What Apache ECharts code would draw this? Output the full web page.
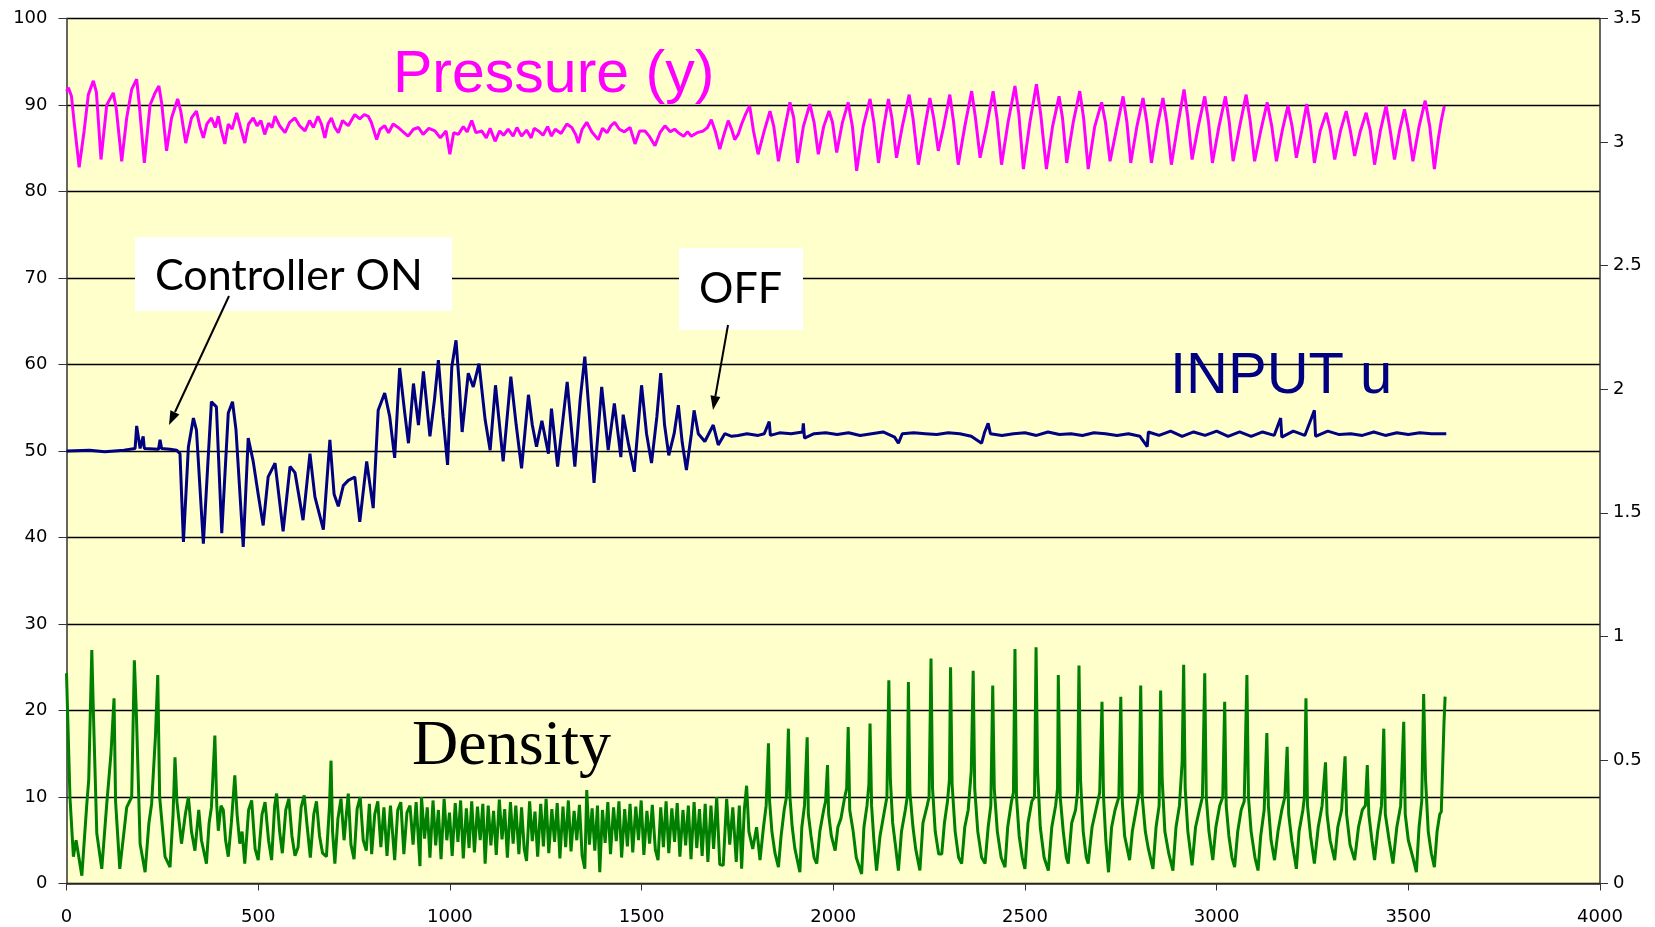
<!DOCTYPE html>
<html><head><meta charset="utf-8">
<script src="https://cdn.jsdelivr.net/npm/echarts@6/dist/echarts.min.js"></script>
<style>html,body{margin:0;padding:0;background:#fff}#c{width:1655px;height:927px}</style>
</head><body><div id="c"></div>
<script>
var xTicks = [0,500,1000,1500,2000,2500,3000,3500,4000];
var leftTicks = [0,10,20,30,40,50,60,70,80,90,100];
var rightTicks = [0,0.5,1,1.5,2,2.5,3,3.5];

var pressurePts = [[0,91.6],[5,92.0],[13,91.0],[20,88],[33,82.8],[46,87.0],[57,91.2],[70,92.8],[78,91.5],[90,83.7],[105,90.0],[122,91.4],[130,89.5],[144,83.5],[157,88.5],[170,91.8],[183,93.0],[190,90],[203,83.3],[218,90.0],[231,91.4],[241,92.2],[248,90.3],[261,84.7],[274,88.5],[290,90.7],[298,89.3],[311,85.6],[326,88.5],[339,89.3],[348,87.5],[357,86.2],[366,87.8],[378,88.5],[388,87.4],[396,88.7],[404,87.0],[413,85.5],[422,87.8],[432,87.2],[444,89.1],[454,87.4],[465,85.6],[475,87.8],[487,88.5],[497,87.6],[507,88.2],[517,86.6],[527,87.9],[536,87.4],[544,88.7],[556,87.6],[570,86.8],[582,88.0],[596,88.5],[608,87.6],[622,87.0],[634,88.2],[644,87.4],[656,88.7],[665,87.8],[674,86.2],[682,87.8],[691,88.5],[700,87.4],[709,86.8],[720,88.2],[735,87.6],[752,88.9],[765,88.4],[777,88.9],[787,88.7],[795,88.0],[809,86.0],[818,87.2],[830,87.6],[840,86.8],[852,87.8],[865,87.4],[878,86.9],[891,86.4],[905,87.2],[918,87.4],[930,86.6],[945,87.3],[961,87.0],[975,86.2],[990,87.0],[1000,84.3],[1010,86.8],[1022,86.6],[1035,87.5],[1045,86.9],[1057,88.2],[1068,86.8],[1083,87.0],[1095,86.2],[1105,87.3],[1118,85.8],[1130,87.0],[1140,86.5],[1152,87.2],[1165,86.4],[1175,87.4],[1187,86.4],[1200,87.1],[1212,86.2],[1220,87.3],[1231,87.0],[1243,86.5],[1255,87.5],[1265,86.4],[1275,87.2],[1290,86.7],[1305,87.8],[1318,87.4],[1328,86.6],[1335,85.6],[1345,87.2],[1357,88.0],[1370,86.9],[1387,86.0],[1398,87.3],[1410,86.8],[1420,87.6],[1430,88.0],[1442,87.2],[1455,86.9],[1470,87.4],[1483,85.5],[1495,87.0],[1509,87.0],[1520,86.4],[1535,85.3],[1548,86.8],[1561,87.6],[1575,86.9],[1586,87.2],[1596,86.8],[1610,86.4],[1620,86.9],[1630,86.4],[1645,86.8],[1661,87.0],[1672,87.4],[1682,88.3],[1692,87.0],[1704,84.9],[1715,86.6],[1726,88.2],[1735,87.2],[1743,86.0],[1752,86.6],[1761,87.8],[1772,89.0],[1782,89.9],[1792,87.0],[1804,84.3],[1820,87.0],[1835,89.3],[1845,87.5],[1857,83.5],[1872,87.0],[1887,90.3],[1897,88.5],[1907,83.3],[1922,87.5],[1939,90.1],[1950,88.0],[1961,84.3],[1975,87.5],[1989,89.3],[1998,88.0],[2009,84.5],[2024,88.0],[2039,90.3],[2050,87.5],[2061,82.4],[2078,87.5],[2096,90.7],[2106,88.0],[2118,83.3],[2130,87.0],[2144,90.7],[2153,88.5],[2165,83.9],[2180,87.5],[2198,91.2],[2208,88.5],[2222,83.1],[2237,87.0],[2252,90.8],[2262,88.5],[2274,84.7],[2288,87.5],[2304,91.2],[2314,88.0],[2326,83.1],[2343,87.5],[2361,91.6],[2371,88.5],[2383,83.9],[2400,87.5],[2417,91.6],[2427,88.5],[2439,83.1],[2456,88.0],[2474,92.2],[2484,89.0],[2496,82.6],[2513,88.0],[2530,92.4],[2541,89.0],[2556,82.6],[2572,87.5],[2589,91.0],[2598,88.5],[2609,83.3],[2626,88.0],[2643,91.6],[2653,88.5],[2665,82.6],[2682,87.5],[2700,90.3],[2710,88.0],[2722,83.5],[2740,87.5],[2756,91.0],[2766,88.0],[2776,83.3],[2792,87.5],[2808,90.8],[2818,88.0],[2830,83.3],[2845,87.5],[2860,90.8],[2870,88.0],[2882,83.1],[2898,87.5],[2915,91.8],[2925,88.5],[2936,83.7],[2952,87.5],[2969,91.0],[2979,88.0],[2989,83.3],[3006,87.5],[3023,91.0],[3033,88.0],[3043,83.5],[3060,87.5],[3077,91.2],[3088,88.0],[3099,83.5],[3115,87.0],[3132,90.3],[3144,87.5],[3156,83.5],[3171,87.0],[3186,89.9],[3197,87.5],[3208,83.9],[3222,87.0],[3235,90.1],[3245,87.5],[3255,83.3],[3270,87.0],[3286,89.1],[3297,87.0],[3308,83.7],[3323,87.0],[3338,89.3],[3349,87.0],[3360,84.1],[3375,87.0],[3390,89.1],[3401,87.0],[3412,83.1],[3427,87.0],[3442,89.9],[3453,87.0],[3464,83.7],[3477,87.0],[3490,89.5],[3501,87.0],[3512,83.5],[3528,87.5],[3544,90.5],[3556,87.5],[3568,82.6],[3578,86.0],[3586,88.2],[3594,89.9]];

var inputPts = [[0,50.0],[60,50.1],[100,49.9],[150,50.1],[179,50.3],[183,52.9],[186,52.9],[192,50.3],[200,51.7],[203,50.3],[240,50.2],[244,51.3],[248,50.3],[270,50.2],[287,50.1],[296,49.7],[305,39.5],[318,50.5],[331,53.8],[339,52.4],[357,39.3],[368,48],[378,55.7],[391,55.1],[405,40.5],[422,54.4],[433,55.7],[442,52.5],[461,38.9],[474,51.5],[487,48.8],[500,45],[513,41.4],[526,47.0],[544,48.6],[565,40.7],[583,48.2],[596,47.5],[617,42.0],[635,49.7],[648,44.7],[670,40.9],[687,51.3],[698,45],[709,43.6],[722,46],[735,46.6],[752,47.0],[765,41.8],[783,48.8],[800,43.4],[813,54.7],[830,56.7],[843,54],[856,49.2],[869,59.6],[882,54.5],[892,50.9],[905,57.8],[918,53.0],[931,59.2],[948,51.7],[960,56],[970,60.5],[982,54],[994,48.4],[1005,59.7],[1016,62.8],[1024,58],[1032,52.2],[1048,59.0],[1061,57.4],[1076,60.1],[1092,53.6],[1105,50.1],[1119,57.6],[1139,48.8],[1159,58.6],[1173,53],[1187,48.0],[1205,56.5],[1215,53],[1226,50.5],[1240,53.5],[1257,49.7],[1265,54.9],[1281,48.2],[1306,58.0],[1326,48.2],[1340,56],[1352,60.9],[1364,54],[1376,46.3],[1396,57.4],[1413,50.1],[1429,55.5],[1446,49.3],[1452,54.2],[1465,51],[1481,47.6],[1500,57.6],[1513,52],[1526,48.6],[1540,54],[1550,59.0],[1560,53],[1571,49.5],[1585,52],[1596,55.3],[1606,51],[1617,47.8],[1630,52],[1637,54.7],[1648,52.0],[1665,51.1],[1687,53.0],[1700,50.7],[1717,52.0],[1735,51.7],[1752,51.8],[1775,52.0],[1804,51.8],[1820,52.0],[1833,53.4],[1836,51.8],[1860,52.1],[1890,52.0],[1920,52.2],[1922,53.2],[1925,51.5],[1950,52.0],[1980,52.1],[2010,51.9],[2040,52.1],[2070,51.8],[2100,52.0],[2130,52.2],[2160,51.6],[2170,50.9],[2180,52.0],[2210,52.1],[2240,52.0],[2270,51.9],[2300,52.1],[2330,52.0],[2360,51.7],[2387,50.9],[2395,52.2],[2404,53.2],[2410,52.0],[2440,51.8],[2470,52.0],[2500,52.1],[2530,51.8],[2560,52.2],[2590,51.9],[2620,52.0],[2650,51.8],[2680,52.1],[2710,52.0],[2740,51.8],[2770,52.0],[2800,51.7],[2819,50.5],[2822,52.2],[2850,51.8],[2880,52.3],[2910,51.7],[2940,52.2],[2970,51.8],[3000,52.3],[3030,51.7],[3060,52.2],[3090,51.7],[3120,52.2],[3150,51.8],[3167,53.8],[3170,51.6],[3200,52.3],[3230,51.8],[3255,54.7],[3258,51.7],[3290,52.3],[3320,51.9],[3350,52.0],[3380,51.8],[3410,52.2],[3440,51.8],[3470,52.1],[3500,51.9],[3530,52.1],[3560,52.0],[3599,52.0]];

var densityPts = [[0,24.3],[3,24.3],[9,10],[18,3.1],[25,5],[40,0.9],[53,9.2],[58,12],[66,27.0],[70,20],[79,5.8],[92,1.7],[105,9.2],[116,15],[124,21.4],[128,9.5],[139,1.7],[150,6],[157,8.8],[170,10],[177,25.8],[182,20],[192,4.6],[205,1.3],[215,7],[222,9.2],[232,17],[238,24.1],[243,10],[257,3.1],[270,1.9],[278,8],[283,14.6],[288,9.5],[300,4.6],[310,8],[318,10],[326,6],[335,3.8],[345,8.5],[352,5],[365,2.3],[372,7],[378,8.8],[387,17.1],[392,9],[396,6.1],[403,9],[409,8.5],[415,5],[422,3.1],[430,7],[439,12.5],[445,8],[452,4.6],[458,6],[465,2.3],[475,8.5],[483,9.6],[492,4.0],[500,2.7],[510,8.0],[518,9.4],[527,5.0],[535,2.7],[543,9.0],[548,10.4],[556,6.0],[563,3.5],[572,8.5],[580,9.8],[588,5.5],[596,3.2],[604,4.2],[612,8.8],[620,10.2],[628,6.5],[636,3.0],[645,8.0],[652,9.5],[660,5.5],[668,3.5],[678,3.1],[686,9.0],[690,14.2],[694,6.0],[700,2.3],[708,7.5],[716,9.8],[724,5.0],[730,8],[735,10.4],[742,4.5],[750,2.8],[758,8.6],[766,10.0],[774,5.0],[782,3.8],[790,9.2],[796,3.4],[804,8.0],[812,9.5],[820,4.2],[828,8.8],[836,3.2],[845,9.0],[856,2.7],[864,8.5],[872,9.4],[880,3.4],[888,8.2],[896,9.0],[904,4.5],[912,9.4],[922,2.0],[926,10.0],[934,5.2],[941,8.8],[948,3.0],[956,9.6],[963,4.4],[970,8.5],[977,2.8],[985,9.8],[992,5.0],[999,8.2],[1006,3.2],[1014,9.3],[1021,4.8],[1028,9.6],[1035,2.9],[1043,8.7],[1050,4.1],[1057,9.5],[1064,3.6],[1072,8.9],[1079,5.0],[1086,9.2],[1092,2.3],[1100,9.0],[1107,4.4],[1114,8.4],[1121,3.3],[1129,9.7],[1136,5.1],[1143,8.6],[1150,3.0],[1158,9.4],[1165,4.6],[1172,9.0],[1180,3.4],[1187,8.8],[1194,4.0],[1200,2.6],[1208,9.5],[1215,4.9],[1222,8.3],[1229,3.1],[1237,9.2],[1244,4.3],[1251,9.8],[1258,3.5],[1266,8.6],[1273,4.8],[1280,9.3],[1287,2.9],[1295,8.9],[1302,4.2],[1309,9.6],[1316,3.7],[1324,8.4],[1331,5.0],[1338,9.1],[1345,3.2],[1352,1.7],[1357,10.8],[1364,4.5],[1371,8.7],[1378,3.8],[1385,9.0],[1391,1.3],[1398,8.5],[1405,4.7],[1412,9.4],[1419,3.4],[1427,8.8],[1434,4.9],[1441,9.5],[1448,3.0],[1456,8.6],[1463,4.3],[1470,9.2],[1477,3.6],[1485,8.9],[1492,5.0],[1499,9.6],[1506,3.3],[1514,8.4],[1521,4.6],[1528,9.1],[1536,3.9],[1543,2.7],[1550,8.8],[1557,4.2],[1564,9.5],[1571,3.5],[1579,8.7],[1586,4.8],[1593,9.3],[1600,3.1],[1608,8.5],[1615,4.4],[1622,9.0],[1629,2.8],[1637,9.4],[1644,4.1],[1651,8.6],[1658,3.2],[1666,9.2],[1673,2.5],[1681,9.0],[1688,4.0],[1696,10.0],[1704,2.2],[1713,2.1],[1722,9.8],[1730,4.5],[1738,8.8],[1747,2.5],[1755,9.0],[1761,1.7],[1768,8.5],[1774,11.3],[1780,6.0],[1790,4.0],[1800,6.5],[1809,2.7],[1818,6.5],[1825,9.0],[1831,16.2],[1834,9.5],[1840,6.0],[1848,3.5],[1857,1.9],[1864,5.5],[1872,8.5],[1878,10.0],[1883,17.9],[1887,10.0],[1893,6.5],[1900,4.0],[1913,1.3],[1918,6.5],[1925,9.0],[1932,16.9],[1935,8.0],[1942,5.5],[1950,3.0],[1957,2.3],[1965,6.0],[1975,8.5],[1980,9.5],[1985,13.7],[1988,8.0],[1995,5.5],[2005,3.8],[2012,6.5],[2020,7.5],[2030,10.0],[2035,11.0],[2039,18.1],[2043,8.5],[2052,6.0],[2060,3.0],[2074,1.1],[2080,6.5],[2088,9.0],[2093,11.5],[2096,18.5],[2100,9.0],[2106,5.0],[2113,1.5],[2122,5.5],[2132,8.0],[2140,10.0],[2145,23.5],[2149,12.0],[2155,7.0],[2162,4.5],[2170,1.5],[2178,6.0],[2188,8.5],[2193,10.0],[2196,23.3],[2200,10.5],[2208,6.5],[2215,4.0],[2226,1.5],[2234,7.0],[2245,9.0],[2250,10.0],[2255,26.0],[2259,11.0],[2266,6.0],[2275,3.4],[2283,3.4],[2290,7.0],[2298,9.5],[2303,12.0],[2306,25.0],[2310,11.5],[2318,6.0],[2327,3.0],[2335,2.3],[2343,6.5],[2352,8.5],[2360,13.0],[2365,24.6],[2369,11.0],[2377,6.0],[2387,3.0],[2396,2.3],[2404,6.5],[2411,9.0],[2416,22.9],[2420,11.0],[2428,6.0],[2438,3.0],[2448,1.9],[2455,6.5],[2465,9.5],[2470,10.5],[2474,27.1],[2478,10.0],[2485,5.5],[2493,3.0],[2500,1.7],[2508,7.0],[2518,9.5],[2525,10.0],[2529,27.3],[2533,13.0],[2540,6.5],[2550,3.0],[2561,1.5],[2570,6.5],[2580,9.0],[2585,11.0],[2587,24.1],[2592,10.0],[2600,6.0],[2608,3.0],[2613,2.3],[2622,7.0],[2632,8.5],[2637,10.5],[2641,25.2],[2645,12.0],[2652,6.0],[2660,3.0],[2665,2.3],[2675,6.5],[2685,8.5],[2695,10.5],[2701,21.0],[2705,10.0],[2711,5.0],[2718,1.3],[2726,6.5],[2735,8.5],[2745,10.0],[2750,21.6],[2754,9.5],[2760,5.5],[2773,2.7],[2780,6.0],[2790,8.5],[2798,10.5],[2802,22.9],[2806,10.0],[2814,6.0],[2822,4.0],[2834,1.7],[2842,6.5],[2850,9.0],[2854,22.3],[2858,12.0],[2865,6.0],[2875,3.5],[2886,1.5],[2894,6.5],[2903,9.0],[2910,14.0],[2914,25.3],[2918,11.0],[2925,6.0],[2936,2.1],[2945,6.5],[2955,8.5],[2963,10.0],[2969,24.3],[2973,10.0],[2980,6.0],[2990,2.7],[2998,6.5],[3008,9.0],[3016,10.0],[3021,21.0],[3025,9.0],[3032,5.5],[3040,3.0],[3047,1.9],[3055,6.0],[3064,8.5],[3072,9.5],[3079,24.1],[3083,10.0],[3090,6.0],[3100,3.0],[3108,1.5],[3115,5.5],[3124,8.5],[3131,17.4],[3135,9.0],[3142,5.0],[3151,2.7],[3160,6.0],[3170,8.5],[3178,10.0],[3184,15.8],[3188,8.0],[3196,5.0],[3208,1.7],[3215,6.0],[3225,8.5],[3229,10.0],[3233,21.4],[3237,9.0],[3245,5.5],[3255,2.3],[3265,6.5],[3275,9.0],[3284,14.0],[3288,8.0],[3296,5.0],[3308,2.7],[3316,6.5],[3326,8.5],[3335,14.7],[3339,8.0],[3348,4.5],[3360,2.7],[3370,6.5],[3380,8.5],[3388,9.0],[3393,13.7],[3397,8.0],[3405,5.0],[3412,2.7],[3420,6.0],[3430,9.0],[3436,17.9],[3440,8.0],[3450,5.0],[3460,2.3],[3470,6.5],[3480,9.0],[3488,18.7],[3492,8.0],[3500,5.0],[3512,3.0],[3521,1.3],[3528,6.5],[3535,9.5],[3540,21.9],[3545,12.0],[3552,6.0],[3560,3.5],[3568,1.9],[3575,6.0],[3582,8.0],[3586,8.3],[3593,18.5],[3596,21.6]];

var chart = echarts.init(document.getElementById('c'), null, {renderer: 'canvas'});
var axisFont = {color: '#000', fontFamily: '"DejaVu Sans", Verdana, sans-serif', fontSize: 18};
var plain = function (v) { return String(v); };
var axLine = {show: true, lineStyle: {color: '#333', width: 1.5}};
chart.setOption({
  animation: false,
  backgroundColor: '#ffffff',
  grid: {left: 66.5, right: 55, top: 18.5, bottom: 43.5, show: true, backgroundColor: '#FFFFCC', borderWidth: 0},
  xAxis: {type: 'value', min: xTicks[0], max: xTicks[xTicks.length-1], interval: 500,
    axisLine: axLine, axisTick: {show: true, length: 7, lineStyle: {color: '#333'}},
    axisLabel: Object.assign({margin: 25, formatter: plain}, axisFont), splitLine: {show: false}},
  yAxis: [
    {type: 'value', min: leftTicks[0], max: leftTicks[leftTicks.length-1], interval: 10, position: 'left',
      axisLine: axLine, axisTick: {show: true, length: 8, lineStyle: {color: '#333'}},
      axisLabel: Object.assign({margin: 19, formatter: plain}, axisFont),
      splitLine: {show: true, lineStyle: {color: '#000', width: 1.3}}},
    {type: 'value', min: rightTicks[0], max: rightTicks[rightTicks.length-1], interval: 0.5, position: 'right',
      axisLine: axLine, axisTick: {show: true, length: 8, lineStyle: {color: '#333'}},
      axisLabel: Object.assign({margin: 13, formatter: plain}, axisFont),
      splitLine: {show: false}}
  ],
  series: [
    {name: 'Density', type: 'line', data: densityPts, showSymbol: false, lineStyle: {color: '#008000', width: 3}, z: 3},
    {name: 'Pressure (y)', type: 'line', data: pressurePts, showSymbol: false, lineStyle: {color: '#FF00FF', width: 3}, z: 3},
    {name: 'INPUT u', type: 'line', data: inputPts, showSymbol: false, lineStyle: {color: '#000080', width: 3}, z: 4}
  ],
  graphic: [
    {type: 'text', left: 393, top: 46, z: 100, style: {text: 'Pressure (y)', fill: '#FF00FF', font: '59px "Liberation Sans", Arial, sans-serif'}},
    {type: 'text', left: 1170, top: 348, z: 100, style: {text: 'INPUT u', fill: '#000080', font: '58px "Liberation Sans", Arial, sans-serif'}},
    {type: 'text', left: 412, top: 715, z: 100, style: {text: 'Density', fill: '#000000', font: '64px "Liberation Serif", "Times New Roman", serif'}},
    {type: 'rect', shape: {x: 135, y: 237, width: 317, height: 74}, style: {fill: '#ffffff'}, z: 100},
    {type: 'text', left: 155, top: 255, z: 101, style: {text: 'Controller ON', fill: '#000', font: '43px Lato, "Open Sans", sans-serif'}},
    {type: 'rect', shape: {x: 679, y: 248, width: 124, height: 82}, style: {fill: '#ffffff'}, z: 100},
    {type: 'text', left: 699, top: 268, z: 101, style: {text: 'OFF', fill: '#000', font: '43px Lato, "Open Sans", sans-serif'}},
    {type: 'line', shape: {x1: 229, y1: 296, x2: 175, y2: 412}, style: {stroke: '#000', lineWidth: 2}, z: 102},
    {type: 'polygon', shape: {points: [[169, 425], [179.4, 414.4], [170.4, 410.2]]}, style: {fill: '#000'}, z: 102},
    {type: 'line', shape: {x1: 728, y1: 325, x2: 715.4, y2: 396.2}, style: {stroke: '#000', lineWidth: 2}, z: 102},
    {type: 'polygon', shape: {points: [[713, 410], [720.3, 397.1], [710.5, 395.3]]}, style: {fill: '#000'}, z: 102}
  ]
});
</script></body></html>
